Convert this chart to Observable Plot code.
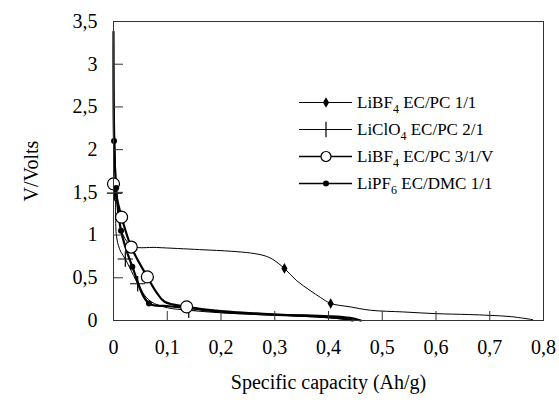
<!DOCTYPE html>
<html><head><meta charset="utf-8">
<script src="https://cdn.jsdelivr.net/npm/d3@7"></script>
<script src="https://cdn.jsdelivr.net/npm/@observablehq/plot@0.6"></script>
<style>
body{margin:0;background:#fff;}
#wrap{position:relative;width:559px;height:400px;font-family:'Liberation Serif','Times New Roman',serif;color:#000;}
#legend{position:absolute;left:299px;top:89px;font-family:'Liberation Serif','Times New Roman',serif;}
.row{height:27px;display:flex;align-items:center;font-size:17px;white-space:nowrap;}
.row svg{margin-right:4px;}
.row sub{font-size:12px;vertical-align:-5px;line-height:0;}
svg text{font-family:'Liberation Serif','Times New Roman',serif;}
</style></head>
<body><div id="wrap"><div id="chart"></div><div id="legend"></div></div>
<script>
// Tick values and labels
const xTicks = [0, 0.1, 0.2, 0.3, 0.4, 0.5, 0.6, 0.7, 0.8];
const xTickLabels = ["0", "0,1", "0,2", "0,3", "0,4", "0,5", "0,6", "0,7", "0,8"];
const yTicks = [0, 0.5, 1, 1.5, 2, 2.5, 3, 3.5];
const yTickLabels = ["0", "0,5", "1", "1,5", "2", "2,5", "3", "3,5"];

// Series names (legend)
const seriesNames = ["LiBF<sub>4</sub> EC/PC 1/1", "LiClO<sub>4</sub> EC/PC 2/1", "LiBF<sub>4</sub> EC/PC 3/1/V", "LiPF<sub>6</sub> EC/DMC 1/1"];

// Series 1: LiBF4 EC/PC 1/1 (diamonds)
const s1x = [0, 0.003, 0.008, 0.018, 0.035, 0.08, 0.16, 0.22, 0.255, 0.28, 0.295, 0.318, 0.34, 0.366, 0.385, 0.404, 0.44, 0.478, 0.54, 0.6, 0.66, 0.7, 0.74, 0.78];
const s1v = [3.4, 2.0, 1.3, 1.0, 0.87, 0.855, 0.83, 0.81, 0.79, 0.76, 0.72, 0.61, 0.47, 0.35, 0.27, 0.2, 0.16, 0.12, 0.1, 0.08, 0.07, 0.06, 0.045, 0.01];
const s1mx = [0.318, 0.404];
const s1mv = [0.61, 0.2];

// Series 2: LiClO4 EC/PC 2/1 (plus)
const s2x = [0, 0.002, 0.005, 0.009, 0.014, 0.022, 0.03, 0.045, 0.055, 0.07, 0.1, 0.14, 0.2, 0.3, 0.38, 0.42, 0.45];
const s2v = [1.5, 1.49, 1.02, 0.88, 0.8, 0.72, 0.62, 0.43, 0.32, 0.22, 0.15, 0.12, 0.09, 0.06, 0.04, 0.02, 0.0];
const s2mx = [0.002, 0.022, 0.045, 0.14];
const s2mv = [1.49, 0.72, 0.43, 0.12];

// Series 3: LiBF4 EC/PC 3/1/V (open circles)
const s3x = [0, 0.015, 0.033, 0.063, 0.08, 0.095, 0.136, 0.2, 0.3, 0.4, 0.44, 0.46];
const s3v = [1.6, 1.21, 0.86, 0.51, 0.33, 0.22, 0.16, 0.11, 0.07, 0.05, 0.03, 0.0];
const s3mx = [0, 0.015, 0.033, 0.063, 0.136];
const s3mv = [1.6, 1.21, 0.86, 0.51, 0.16];

// Series 4: LiPF6 EC/DMC 1/1 (filled circles)
const s4x = [0, 0.001, 0.005, 0.014, 0.035, 0.066, 0.1, 0.136, 0.2, 0.3, 0.4, 0.43, 0.445];
const s4v = [3.38, 2.1, 1.55, 1.05, 0.63, 0.2, 0.17, 0.15, 0.1, 0.07, 0.04, 0.02, 0.0];
const s4mx = [0.001, 0.005, 0.014, 0.035, 0.066];
const s4mv = [2.1, 1.55, 1.05, 0.63, 0.2];

const pts = (xs, vs) => xs.map((x, i) => ({x, v: vs[i]}));

const styles = [
  {lw: 1, symbol: "diamond", r: 3.2, fill: "#000", stroke: "none"},
  {lw: 1, symbol: "plus", r: 5, fill: "none", stroke: "#000"},
  {lw: 2.2, symbol: "circle", r: 6, fill: "#fff", stroke: "#000"},
  {lw: 2.2, symbol: "circle", r: 3, fill: "#000", stroke: "none"}
];
const lines = [pts(s1x, s1v), pts(s2x, s2v), pts(s3x, s3v), pts(s4x, s4v)];
const marks = [pts(s1mx, s1mv), pts(s2mx, s2mv), pts(s3mx, s3mv), pts(s4mx, s4mv)];

const plotMarks = [];
lines.forEach((d, i) => {
  plotMarks.push(Plot.line(d, {x: "x", y: "v", stroke: "#000", strokeWidth: styles[i].lw, curve: "catmull-rom"}));
});
marks.forEach((d, i) => {
  const s = styles[i];
  plotMarks.push(Plot.dot(d, {x: "x", y: "v", symbol: s.symbol, r: s.r, fill: s.fill, stroke: s.stroke, strokeWidth: 1.2}));
});

const FONT = "'Liberation Serif', 'Times New Roman', serif";
const chart = Plot.plot({
  width: 559, height: 400,
  marginLeft: 113, marginRight: 16, marginTop: 21, marginBottom: 80,
  style: {fontFamily: FONT, fontSize: "20px", color: "#000", background: "#fff"},
  x: {domain: [0, 0.8]},
  y: {domain: [0, 3.5]},
  marks: [
    ...plotMarks,
    Plot.frame({stroke: "#333", strokeWidth: 1}),
    Plot.axisX({ticks: xTicks, tickSize: -9, text: null, label: null, stroke: "#333"}),
    Plot.axisY({ticks: yTicks, tickSize: -10, text: null, label: null, stroke: "#333"}),
    Plot.axisX({ticks: xTicks, tickSize: 0, tickPadding: 19, tickFormat: (d, i) => xTickLabels[i], fontSize: 20, fontFamily: FONT,
      label: "Specific capacity (Ah/g)", labelAnchor: "center", labelArrow: "none", labelOffset: 68}),
    Plot.axisY({ticks: yTicks, tickSize: 0, tickPadding: 16, tickFormat: (d, i) => yTickLabels[i], fontSize: 20, fontFamily: FONT,
      label: "V/Volts", labelAnchor: "center", labelArrow: "none", labelOffset: 90})
  ]
});
document.getElementById("chart").appendChild(chart);

// Legend
const legend = document.getElementById("legend");
seriesNames.forEach((name, i) => {
  const s = styles[i];
  const row = document.createElement("div");
  row.className = "row";
  const svg = d3.create("svg").attr("width", 54).attr("height", 27);
  svg.append("line").attr("x1", 0).attr("x2", 53).attr("y1", 13.5).attr("y2", 13.5)
    .attr("stroke", "#000").attr("stroke-width", Math.min(s.lw, 1.6));
  const sym = {diamond: d3.symbolDiamond, plus: d3.symbolPlus, circle: d3.symbolCircle}[s.symbol];
  const lr = Math.min(s.r, 5);
  svg.append("path").attr("transform", "translate(27,13.5)")
    .attr("d", d3.symbol(sym, Math.PI * lr * lr)())
    .attr("fill", s.fill).attr("stroke", s.stroke).attr("stroke-width", 1.2);
  row.appendChild(svg.node());
  const t = document.createElement("span");
  t.innerHTML = name;
  row.appendChild(t);
  legend.appendChild(row);
});
</script></body></html>
